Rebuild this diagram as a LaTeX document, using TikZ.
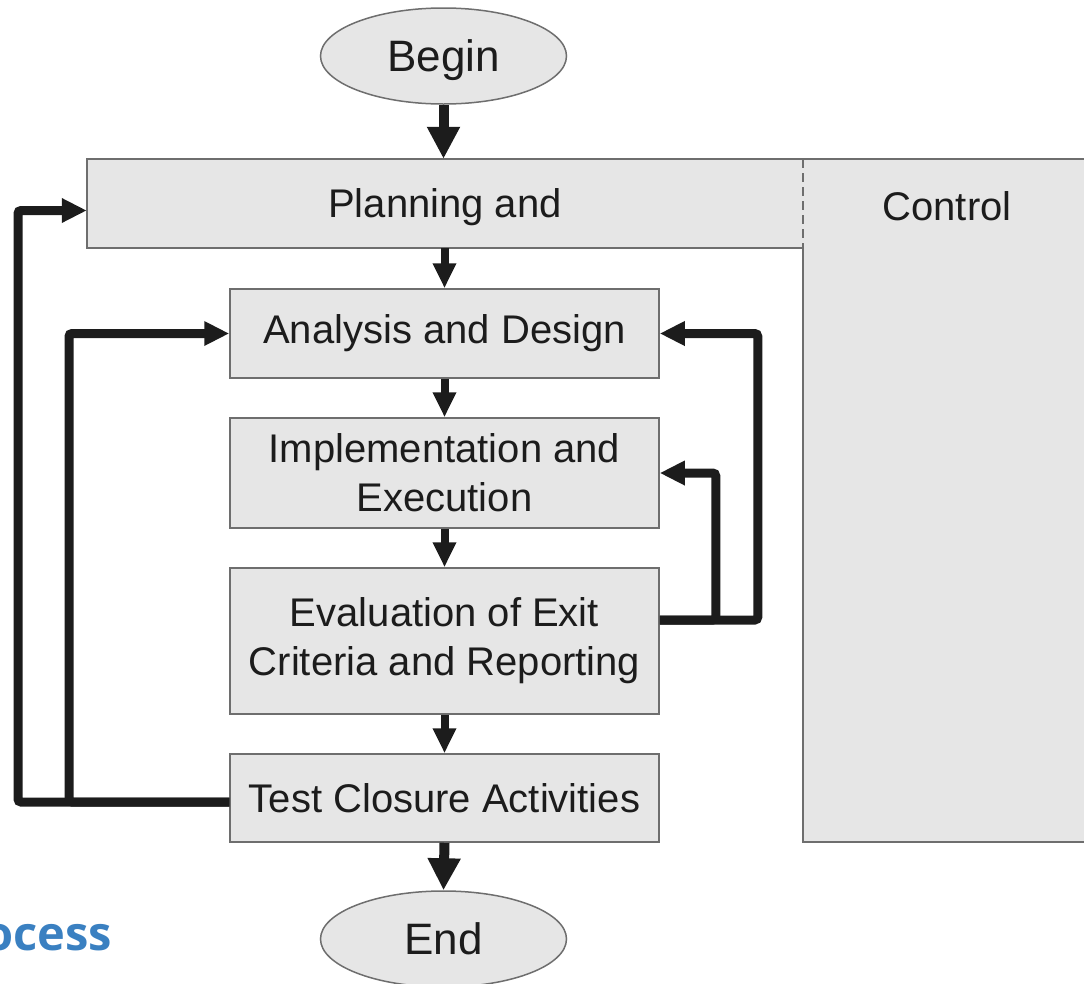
\documentclass[tikz,border=0pt]{standalone}
\usepackage{fontspec}
\setmainfont{Liberation Sans}
\newfontfamily\titlefont{Open Sans}
\usetikzlibrary{arrows.meta,shapes.geometric}
\definecolor{boxfill}{HTML}{E6E6E6}
\definecolor{boxline}{HTML}{6E6E6E}
\definecolor{ink}{HTML}{1C1C1C}
\definecolor{titleblue}{HTML}{3A80C1}
\begin{document}
\begin{tikzpicture}[x=1pt,y=-1pt,
  box/.style={draw=boxline, line width=1.5pt, fill=boxfill, minimum width=429pt,
    inner sep=0pt, align=center, text=ink, font=\fontsize{40}{49}\selectfont},
  term/.style={ellipse, draw=boxline, line width=1.5pt, fill=boxfill,
    minimum width=246pt, minimum height=96pt, inner sep=0pt, text=ink,
    text depth=0pt, font=\fontsize{44}{48}\selectfont},
  lbl/.style={inner sep=0pt, text=ink, text depth=0pt, font=\fontsize{40}{49}\selectfont},
  flow/.style={draw=ink, line width=8pt, -{Triangle[length=25pt,width=22pt]}},
  bigflow/.style={draw=ink, line width=10pt, -{Triangle[length=32pt,width=31pt]}},
  loopline/.style={draw=ink, line width=9pt, rounded corners=3pt,
    -{Triangle[length=25pt,width=23pt]}},
]
\useasboundingbox (0,0) rectangle (1084,983);

% Planning and Control region
\draw[fill=boxfill, draw=boxline, line width=1.5pt]
  (87,159) -- (1095,159) -- (1095,842) -- (803,842) -- (803,248) -- (87,248) -- cycle;
\draw[boxline, line width=1.2pt, dashed, dash pattern=on 9pt off 5pt] (803,159) -- (803,248);

\node[lbl, minimum width=716pt, minimum height=89pt] (plan) at (445,203.5) {Planning and};
\node[lbl] (ctrl) at (947,206) {Control};

% terminals
\node[term] (begin) at (443.5,56) {Begin};
\node[term] (endn) at (443.5,939) {End};

% process boxes
\node[box, minimum height=89pt] (ana) at (444.5,333.5) {Analysis and Design};
\node[box, minimum height=110pt] (impl) at (444.5,473) {Implementation and\\Execution};
\node[box, minimum height=146pt] (eval) at (444.5,641) {Evaluation of Exit\\Criteria and Reporting};
\node[box, minimum height=88pt] (tca) at (444.5,798) {Test Closure Activities};

% main flow
\draw[bigflow] (begin.south) -- (begin.south |- plan.north);
\draw[flow] (ana.north |- plan.south) -- (ana.north);
\draw[flow] (ana.south) -- (impl.north);
\draw[flow] (impl.south) -- (eval.north);
\draw[flow] (eval.south) -- (tca.north);
\draw[bigflow] (tca.south) -- (endn.north);

% feedback loops on the right
\coordinate (evout) at ([yshift=21pt]eval.east);
\draw[loopline] (evout) -- ++(98,0) |- (ana.east);
\draw[loopline] (evout) -- ++(56,0) |- (impl.east);

% feedback loops on the left
\coordinate (tcout) at ([yshift=-4pt]tca.west);
\draw[loopline] (tcout) -- (18,802) |- ([yshift=-7pt]plan.west);
\draw[loopline] (tcout) -- (69,802) |- (ana.west);

% clipped title fragment
\node[anchor=base west, inner sep=0pt, text=titleblue,
  font=\titlefont\bfseries\fontsize{47}{47}\selectfont] (ttl) at (-16,950) {ocess};
\end{tikzpicture}
\end{document}
